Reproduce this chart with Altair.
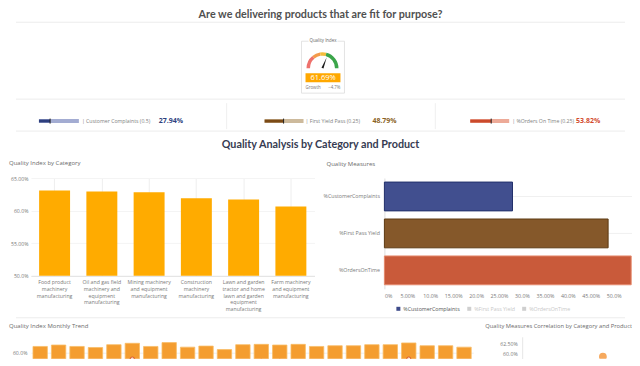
import math
import altair as alt
import pandas as pd

FONT = "Open Sans"
HEAD_FONT = "Lato"

# ------------------------------------------------------------------ data
page_title = "Are we delivering products that are fit for purpose?"
section_title = "Quality Analysis by Category and Product"
panel_titles = ["Quality Index by Category", "Quality Measures",
                "Quality Index Monthly Trend", "Quality Measures Correlation by Category and Product"]

quality_index = 61.69
quality_growth = -4.7
gauge_edges = [0, 28, 45, 58, 100]
gauge_bands = ["poor", "fair", "good", "excellent"]

kpi_names = ["Customer Complaints (0.5)", "First Yield Pass (0.25)", "%Orders On Time (0.25)"]
kpi_values = [27.94, 48.79, 53.82]

categories = [
    "Food product machinery manufacturing",
    "Oil and gas field machinery and equipment manufacturing",
    "Mining machinery and equipment manufacturing",
    "Construction machinery manufacturing",
    "Lawn and garden tractor and home lawn and garden equipment manufacturing",
    "Farm machinery and equipment manufacturing",
]
category_label_lines = [
    ["Food product", "machinery", "manufacturing"],
    ["Oil and gas field", "machinery and", "equipment", "manufacturing"],
    ["Mining machinery", "and equipment", "manufacturing"],
    ["Construction", "machinery", "manufacturing"],
    ["Lawn and garden", "tractor and home", "lawn and garden", "equipment", "manufacturing"],
    ["Farm machinery", "and equipment", "manufacturing"],
]
category_quality = [63.08, 62.92, 62.82, 61.90, 61.70, 60.63]

measures = ["%CustomerComplaints", "%First Pass Yield", "%OrdersOnTime"]
measure_values = [27.94, 48.79, 53.82]

months = ["2018-01", "2018-02", "2018-03", "2018-04", "2018-05", "2018-06",
          "2018-07", "2018-08", "2018-09", "2018-10", "2018-11", "2018-12",
          "2019-01", "2019-02", "2019-03", "2019-04", "2019-05", "2019-06",
          "2019-07", "2019-08", "2019-09", "2019-10", "2019-11", "2019-12"]
monthly_quality = [61.8, 62.2, 61.8, 61.5, 62.3, 62.7, 61.8, 62.9, 61.6, 61.9, 60.9, 62.3,
                   62.4, 62.2, 62.4, 61.8, 62.0, 62.0, 62.3, 62.3, 62.8, 62.0, 62.0, 61.6]
monthly_growth = [-12.0, -8.85, -8.35, -9.0, -7.85, -6.15, -7.85, -11.5, -12.0, -8.35, -11.0, -9.35,
                  -7.35, -7.35, -8.85, -8.85, -11.0, -9.0, -9.35, -8.65, -6.15, -11.5, -8.65, -11.0]

product_complaints = [54.7, 47.0, 51.5, 43.8, 57.2, 49.3]
product_quality = [59.1, 55.2, 54.1, 52.8, 53.6, 51.9]

# ------------------------------------------------------------------ styles
gauge_colors = ["#EE716C", "#F39B4B", "#F5BD3C", "#3BA54A"]
kpi_dark = ["#2E3F7E", "#7B4A16", "#CB4A2C"]
kpi_light = ["#A3ACD2", "#CDBA9C", "#EDAA98"]
kpi_value_color = ["#2E3F7E", "#8A6224", "#D24B2D"]
measure_fill = ["#414F8F", "#85582A", "#C95A3A"]
measure_stroke = ["#22306A", "#5C3A12", "#E58A6C"]
legend_square = ["#3E4B8A", "#CFCFCF", "#CFCFCF"]
legend_text = ["#555555", "#C8C8C8", "#C8C8C8"]
TITLE_GREY = "#6b6b6b"

PCT_EXPR = ("datum.value == 0 ? '0%' : (datum.value % 10 == 0 ? format(datum.value, '.1f') "
            ": format(datum.value, '.2f')) + '%'")

OX = 30.0  # page x of every row's origin

one = pd.DataFrame({"k": [0]})


def text_at(txt, x, y, size, color, weight="normal", align="left", font=FONT):
    return alt.Chart(pd.DataFrame({"label": [txt]})).mark_text(
        align=align, baseline="middle", fontSize=size, color=color,
        fontWeight=weight, font=font,
    ).encode(x=alt.value(x), y=alt.value(y), text="label:N")


def hrule(x1, x2, y, color="#ececec"):
    return alt.Chart(one).mark_rule(color=color, strokeWidth=1).encode(
        x=alt.value(x1), x2=alt.value(x2), y=alt.value(y))


def vrule(x, y1, y2, color="#efefef"):
    return alt.Chart(one).mark_rule(color=color, strokeWidth=1).encode(
        x=alt.value(x), y=alt.value(y1), y2=alt.value(y2))


def anchor(y):
    # white hairline in the page margin that pins each row's layout bounds
    return hrule(-22, 0, y, "#ffffff")


# ------------------------------------------------------------------ header (origin page (30, 8))
def rx(px):
    return px - OX


def ry(py):
    return py - 8.0


layers = [
    anchor(0.5),
    text_at(page_title, rx(320), ry(15), 10.8, "#505050", "bold", "center", HEAD_FONT),
    hrule(rx(15), rx(625), ry(22)),
]

GX, GY = rx(322), ry(68)
layers.append(alt.Chart(one).mark_rect(fill="white", stroke="#dcdcdc", strokeWidth=0.8).encode(
    x=alt.value(rx(301)), x2=alt.value(rx(344)), y=alt.value(ry(41)), y2=alt.value(ry(93))))
layers.append(alt.Chart(one).mark_rect(fill="white").encode(
    x=alt.value(rx(308)), x2=alt.value(rx(337)), y=alt.value(ry(38)), y2=alt.value(ry(44))))
layers.append(text_at("Quality Index", rx(322.5), ry(41), 4.4, "#666666", align="center"))

gauge_df = pd.DataFrame({"start": gauge_edges[:-1], "end": gauge_edges[1:], "band": gauge_bands})
layers.append(alt.Chart(gauge_df).mark_arc(innerRadius=12.5, outerRadius=16).encode(
    theta=alt.Theta("start:Q", stack=None,
                    scale=alt.Scale(domain=[0, 100], range=[1.5 * math.pi, 2.5 * math.pi])),
    theta2="end:Q",
    color=alt.Color("band:N", scale=alt.Scale(domain=gauge_bands, range=gauge_colors), legend=None),
    x=alt.value(GX), y=alt.value(GY)))
qi_df = pd.DataFrame({"v": [quality_index], "g": [quality_growth]})
layers.append(alt.Chart(qi_df).mark_point(
    shape="M-0.09,0L0,-1L0.09,0Z", filled=True, color="#1a1a1a", size=560, opacity=1).encode(
    x=alt.value(GX), y=alt.value(GY),
    angle=alt.Angle("v:Q", scale=alt.Scale(domain=[0, 100], range=[270, 450]))))
layers.append(alt.Chart(one).mark_rect(fill="#FFA800").encode(
    x=alt.value(rx(305)), x2=alt.value(rx(340)), y=alt.value(ry(73)), y2=alt.value(ry(82))))
layers.append(alt.Chart(qi_df).transform_calculate(
    label="format(datum.v, '.2f') + '%'").mark_text(
    align="center", baseline="middle", fontSize=7.5, color="white", font=FONT).encode(
    x=alt.value(rx(322.5)), y=alt.value(ry(77.7)), text="label:N"))
layers.append(text_at("Growth", rx(305), ry(88), 4.4, "#777777"))
layers.append(alt.Chart(qi_df).transform_calculate(
    label="format(datum.g, '.1f') + '%'").mark_text(
    align="right", baseline="middle", fontSize=4.4, color="#777777", font=FONT).encode(
    x=alt.value(rx(340)), y=alt.value(ry(88)), text="label:N"))

layers.append(hrule(rx(15), rx(625), ry(99)))
layers.append(vrule(rx(226), ry(103), ry(129)))
layers.append(vrule(rx(435), ry(103), ry(129)))

kpi_df = pd.DataFrame({"name": kpi_names, "value": kpi_values})
kpi_bar_px = [(38, 78), (264, 303), (470, 509)]
kpi_label_px = [81, 305, 512]
kpi_value_px = [158, 372, 576]
for i in range(3):
    d = kpi_df.iloc[[i]].reset_index(drop=True)
    xs = alt.Scale(domain=[0, 100], range=[rx(kpi_bar_px[i][0]), rx(kpi_bar_px[i][1])])
    base = alt.Chart(d).transform_calculate(lo="0", hi="100")
    track = base.mark_rect(color=kpi_light[i]).encode(
        x=alt.X("lo:Q", scale=xs, axis=None), x2="hi:Q",
        y=alt.value(ry(119)), y2=alt.value(ry(123)))
    val = base.mark_rect(color=kpi_dark[i]).encode(
        x=alt.X("lo:Q", scale=xs, axis=None), x2="value:Q",
        y=alt.value(ry(119.5)), y2=alt.value(ry(122.5)))
    mark = base.mark_rule(color="#222222", strokeWidth=1).encode(
        x=alt.X("value:Q", scale=xs, axis=None),
        y=alt.value(ry(118.5)), y2=alt.value(ry(123.5)))
    label = alt.Chart(d).transform_calculate(label="'|  ' + datum.name").mark_text(
        align="left", baseline="middle", fontSize=5.2, color="#808080", font=FONT).encode(
        x=alt.value(rx(kpi_label_px[i])), y=alt.value(ry(121)), text="label:N")
    value = alt.Chart(d).transform_calculate(label="format(datum.value, '.2f') + '%'").mark_text(
        align="left", baseline="middle", fontSize=7, fontWeight="bold",
        color=kpi_value_color[i], font=FONT).encode(
        x=alt.value(rx(kpi_value_px[i])), y=alt.value(ry(121)), text="label:N")
    layers.append(alt.layer(track, val, mark, label, value))

layers.append(hrule(rx(15), rx(625), ry(131)))
layers.append(text_at(section_title, rx(320), ry(145), 10.8, "#363B52", "bold", "center", HEAD_FONT))

header = alt.layer(*layers).resolve_scale(x="independent", color="independent").properties(
    width=600, height=150)

# ------------------------------------------------------------------ row 2 (origin page (30, 178))
cat_df = pd.DataFrame({
    "category": categories,
    "label": ["|".join(l) for l in category_label_lines],
    "quality": category_quality,
})
left_bars = alt.Chart(cat_df).mark_bar(color="#FFAB00", clip=True).encode(
    x=alt.X("label:N", sort=None, title=None,
            scale=alt.Scale(paddingInner=0.345, paddingOuter=0.1725),
            axis=alt.Axis(labelExpr="split(datum.label, '|')", labelAngle=0, labelFontSize=5.2,
                          labelColor="#7a7a7a", labelLineHeight=6.6, labelPadding=4, labelLimit=0,
                          ticks=False, domainColor="#e2e2e2", grid=True, gridColor="#eeeeee",
                          bandPosition=0.5)),
    y=alt.Y("quality:Q", title=None, scale=alt.Scale(domain=[50, 65], zero=False, nice=False),
            axis=alt.Axis(values=[50, 55, 60, 65], labelExpr=PCT_EXPR, labelFontSize=5.2,
                          labelColor="#7a7a7a", labelPadding=3, ticks=False, domain=False,
                          grid=True, gridColor="#f4f4f4")),
)
left = alt.layer(
    left_bars, anchor(-19.5),
    text_at(panel_titles[0], 8 - OX, 163 - 178, 6, TITLE_GREY),
    hrule(15 - OX, 625 - OX, 140),
).properties(width=284, height=98)

RX0 = 384.0  # page x of the right plot
meas_df = pd.DataFrame({"measure": measures, "value": measure_values})
right_bars = alt.Chart(meas_df).mark_bar(strokeWidth=1).encode(
    y=alt.Y("measure:N", sort=None, title=None,
            scale=alt.Scale(paddingInner=0.22, paddingOuter=0.11),
            axis=alt.Axis(labelFontSize=5.3, labelColor="#7a7a7a", labelPadding=5, ticks=False,
                          domainColor="#dedede", grid=True, gridColor="#f0f0f0",
                          bandPosition=0.5)),
    x=alt.X("value:Q", title=None, scale=alt.Scale(domain=[0, 54], nice=False),
            axis=alt.Axis(values=list(range(0, 55, 5)), labelExpr=PCT_EXPR, labelFontSize=5.3,
                          labelColor="#7a7a7a", labelPadding=5, ticks=False, domain=False,
                          grid=False)),
    color=alt.Color("measure:N", scale=alt.Scale(domain=measures, range=measure_fill), legend=None),
    stroke=alt.Stroke("measure:N", scale=alt.Scale(domain=measures, range=measure_stroke),
                      legend=None),
)
legend_layers = []
leg_square_px = [398, 469, 524]
for i in range(3):
    d = meas_df.iloc[[i]].reset_index(drop=True)
    legend_layers.append(alt.Chart(d).mark_square(size=16, color=legend_square[i], opacity=1).encode(
        x=alt.value(leg_square_px[i] - RX0), y=alt.value(309 - 178)))
    legend_layers.append(alt.Chart(d).mark_text(
        align="left", baseline="middle", fontSize=5.3, color=legend_text[i], font=FONT).encode(
        x=alt.value(leg_square_px[i] - RX0 + 5), y=alt.value(309 - 178), text="measure:N"))
right = alt.layer(
    right_bars, *legend_layers,
    text_at(panel_titles[1], 326 - RX0, 164 - 178, 6, TITLE_GREY),
).properties(width=248, height=111)

row2 = alt.hconcat(left, right, spacing=RX0 - OX - 284, bounds="flush")

# ------------------------------------------------------------------ row 3 (origin page (30, 336))
SX0 = 522.0  # page x of the scatter plot
trend_df = pd.DataFrame({"month": months, "quality": monthly_quality, "growth": monthly_growth})
trend_bars = alt.Chart(trend_df).mark_bar(
    color="#F49D30", stroke="#F9BC66", strokeWidth=0.8, clip=True).encode(
    x=alt.X("month:O", sort=None, axis=None,
            scale=alt.Scale(paddingInner=0.22, paddingOuter=0.11)),
    y=alt.Y("quality:Q", title=None, scale=alt.Scale(domain=[58.29, 64.57], zero=False, nice=False),
            axis=alt.Axis(values=[60], labelExpr=PCT_EXPR, labelFontSize=5.2, labelColor="#7a7a7a",
                          labelPadding=4, ticks=False, domain=False, grid=True,
                          gridColor="#eeeeee")),
)
trend_line = alt.Chart(trend_df).mark_line(color="#D95B2B", strokeWidth=1.3, clip=True).encode(
    x=alt.X("month:O", sort=None),
    y=alt.Y("growth:Q", scale=alt.Scale(domain=[-6, 5], nice=False, zero=False), axis=None))
trend_pts = alt.Chart(trend_df).mark_point(
    filled=True, fill="white", stroke="#D95B2B", strokeWidth=1.2, size=16, opacity=1,
    clip=True).encode(
    x=alt.X("month:O", sort=None),
    y=alt.Y("growth:Q", scale=alt.Scale(domain=[-6, 5], nice=False, zero=False), axis=None))
trend = alt.layer(
    trend_bars, alt.layer(trend_line, trend_pts), anchor(-17),
    text_at(panel_titles[2], 8 - OX, 325 - 336, 6, TITLE_GREY),
).resolve_scale(y="independent").properties(width=443, height=22)

sc_df = pd.DataFrame({"x": product_complaints, "y": product_quality})
scatter_pts = alt.Chart(sc_df).mark_circle(color="#F6A95E", size=60, opacity=1, clip=True).encode(
    x=alt.X("x:Q", scale=alt.Scale(domain=[40, 60], nice=False), axis=None),
    y=alt.Y("y:Q", title=None, scale=alt.Scale(domain=[58.55, 64.34], zero=False, nice=False),
            axis=alt.Axis(values=[60, 62.5], labelExpr=PCT_EXPR, labelFontSize=5.2,
                          labelColor="#7a7a7a", labelPadding=5, ticks=False, domain=True,
                          domainColor="#e6e6e6", grid=False)),
)
scatter = alt.layer(
    scatter_pts,
    text_at(panel_titles[3], 632 - SX0, 325 - 336, 5.8, TITLE_GREY, align="right"),
).properties(width=110, height=22)

row3 = alt.hconcat(trend, scatter, spacing=SX0 - OX - 443, bounds="flush")

chart = alt.vconcat(header, row2, row3, spacing=0).properties(
    padding=0, background="white"
).configure_view(stroke=None).configure_axis(labelFont=FONT).configure_title(font=FONT)

chart.save("out.html", embed_options={"renderer": "svg", "actions": False})
